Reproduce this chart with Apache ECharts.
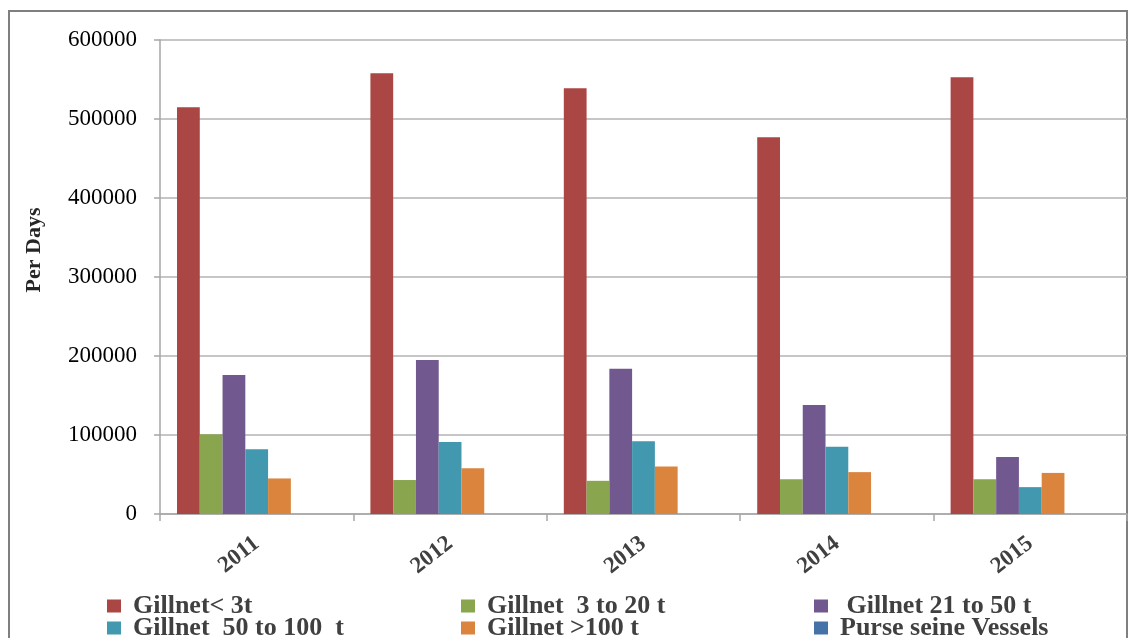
<!DOCTYPE html>
<html>
<head>
<meta charset="utf-8">
<script src="https://cdn.jsdelivr.net/npm/echarts@6/dist/echarts.min.js"></script>
<style>
  html, body { margin: 0; padding: 0; background: #fff; }
  #chart { width: 1131px; height: 638px; }
</style>
</head>
<body>
<div id="chart"></div>
<script>
// data
const years = ["2011", "2012", "2013", "2014", "2015"];
const seriesNames = [
  "Gillnet< 3t",
  "Gillnet  3 to 20 t",
  " Gillnet 21 to 50 t",
  "Gillnet  50 to 100  t",
  "Gillnet >100 t",
  "Purse seine Vessels"
];
const gillnetUnder3 = [515000, 558000, 539000, 477000, 553000];
const gillnet3to20 = [101000, 43000, 42000, 44000, 44000];
const gillnet21to50 = [176000, 195000, 184000, 138000, 72000];
const gillnet50to100 = [82000, 91000, 92000, 85000, 34000];
const gillnetOver100 = [45000, 58000, 60000, 53000, 52000];
const purseSeine = [0, 0, 0, 0, 0];
// the original workbook has one more (empty, unlabelled) series in each cluster
const unlabelled = [0, 0, 0, 0, 0];
const yTicks = [0, 100000, 200000, 300000, 400000, 500000, 600000];

const colors = ["#AA4643", "#89A54E", "#71588F", "#4198AF", "#DB843D", "#4572A7"];
const values = [gillnetUnder3, gillnet3to20, gillnet21to50, gillnet50to100, gillnetOver100, purseSeine];

const serif = "'Liberation Serif', 'Times New Roman', serif";
const legendLeft = [107, 461, 814];
const legendTop = [593, 615];

const chart = echarts.init(document.getElementById("chart"));

const series = values.map((v, i) => ({
  name: seriesNames[i],
  type: "bar",
  data: v,
  barGap: 0,
  barCategoryGap: "17.6%",
  itemStyle: { color: colors[i] }
}));
series.push({
  name: "unlabelled",
  type: "bar",
  data: unlabelled,
  barGap: 0,
  barCategoryGap: "17.6%",
  itemStyle: { color: "#92A8CD" }
});

const legends = seriesNames.map((n, i) => ({
  data: [n],
  left: legendLeft[i % 3],
  top: legendTop[Math.floor(i / 3)],
  padding: 0,
  icon: "rect",
  itemWidth: 14,
  itemHeight: 13,
  selectedMode: false,
  textStyle: {
    fontFamily: serif,
    fontWeight: "bold",
    fontSize: 26,
    lineHeight: 22,
    color: "#404040",
    padding: [0, 0, 0, 7]
  }
}));

const option = {
  animation: false,
  color: colors,
  legend: legends,
  grid: { left: 160, right: 4, top: 40, bottom: 124 },
  xAxis: {
    type: "category",
    data: years,
    axisLine: { lineStyle: { color: "#a6a6a6", width: 1.5 } },
    axisTick: { show: true, length: 7, lineStyle: { color: "#a6a6a6", width: 1.5 } },
    axisLabel: {
      rotate: 38,
      margin: 27,
      fontFamily: serif,
      fontWeight: "bold",
      fontSize: 23,
      color: "#404040"
    }
  },
  yAxis: {
    type: "value",
    min: yTicks[0],
    max: yTicks[yTicks.length - 1],
    interval: yTicks[1] - yTicks[0],
    axisLine: { show: true, lineStyle: { color: "#a6a6a6", width: 1.5 } },
    axisTick: { show: true, length: 6, lineStyle: { color: "#a6a6a6", width: 1.5 } },
    splitLine: { lineStyle: { color: "#b3b3b3", width: 1.5 } },
    axisLabel: {
      margin: 23,
      formatter: v => String(v),
      fontFamily: serif,
      fontSize: 23,
      color: "#000"
    }
  },
  graphic: [
    {
      type: "rect",
      shape: { x: 9, y: 11, width: 1118, height: 700 },
      style: { fill: null, stroke: "#7f7f7f", lineWidth: 2 },
      silent: true
    },
    {
      type: "text",
      x: 34,
      y: 250,
      rotation: Math.PI / 2,
      style: {
        text: "Per Days",
        fontFamily: serif,
        fontWeight: "bold",
        fontSize: 22,
        fill: "#262626",
        align: "center",
        verticalAlign: "middle"
      }
    }
  ],
  series: series
};

chart.setOption(option);
</script>
</body>
</html>
